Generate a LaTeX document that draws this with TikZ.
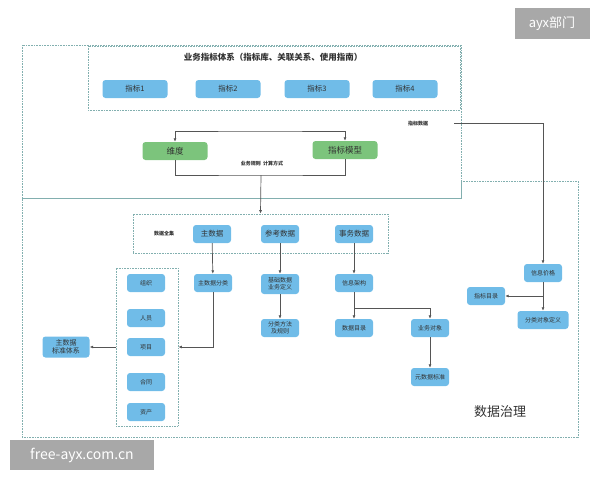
\documentclass[tikz,border=0pt]{standalone}
\usepackage{fontspec}
\setmainfont{Noto Sans CJK SC}
\usepackage{xcolor}
\usetikzlibrary{arrows.meta,positioning}

\definecolor{boxblue}{RGB}{112,188,232}
\definecolor{boxgreen}{RGB}{124,196,124}
\definecolor{dotline}{RGB}{130,175,175}
\definecolor{linegray}{RGB}{85,85,85}
\definecolor{markgray}{RGB}{168,168,168}
\definecolor{textdark}{RGB}{50,50,50}

\begin{document}
\begin{tikzpicture}[
      x=1pt, y=-1pt,
      >={Latex[length=3.5pt,width=3pt]},
      box/.style={fill=boxblue, text=textdark, rounded corners=3pt,
        align=center, minimum width=38pt, minimum height=18pt, inner sep=1pt,
        font=\fontsize{6}{7}\selectfont},
      bigbox/.style={box, minimum width=65pt, font=\fontsize{7.5}{8.5}\selectfont},
      greenbox/.style={bigbox, fill=boxgreen, font=\fontsize{8.5}{9.5}\selectfont},
      frame/.style={draw=dotline, line width=0.8pt, dash pattern=on 0.8pt off 0.8pt},
      flow/.style={->, draw=linegray, line width=0.7pt},
      link/.style={draw=linegray, line width=0.7pt},
      note/.style={font=\fontsize{5}{6}\selectfont\bfseries, text=textdark},
      wmark/.style={fill=markgray, text=white, inner sep=0pt}]
    \useasboundingbox (0,0) rectangle (600,480);

    % dotted frames
    \draw[frame] (22,45) rectangle (461,198);
    \draw[frame] (88,46) rectangle (460,110);
    \draw[frame] (22,198) -- (461,198) -- (461,181) -- (578,181) -- (578,437) -- (22,437) -- cycle;

    % business indicator system
    \node[font=\fontsize{8.5}{9}\selectfont\bfseries, text=textdark] (title) at (273,57) {业务指标体系（指标库、关联关系、使用指南）};
    \node[bigbox] (zb1) at (135,89) {指标1};
    \node[bigbox] (zb2) at (228,89) {指标2};
    \node[bigbox] (zb3) at (317,89) {指标3};
    \node[bigbox] (zb4) at (405,89) {指标4};

    \node[greenbox] (wd) at (175,151) {维度};
    \node[greenbox] (zbmx) at (345,150) {指标模型};
    \coordinate (top) at (260,131);
    \draw[flow, <->] (wd.north) |- (top) -| (zbmx.north);
    \coordinate (gz) at (261,175);
    \draw[link] (wd.south) |- (gz) -| (zbmx.south);
    \node[note] (ywgz) at (262,164) {业务规则\ \ 计算方式};

    \node[note] (zbsj) at (418,124) {指标数据};
    \coordinate (zbsjend) at (454,123);

    % data universe
    \node[frame, minimum width=255pt, minimum height=39pt] (sjqj) at (260.5,233.5) {};
    \node[note] at (164,234) {数据全集};
    \draw[flow] (gz) -- (sjqj.north);
    \node[box, font=\fontsize{7.5}{8.5}\selectfont] (zsj) at (212,234) {主数据};
    \node[box, font=\fontsize{7.5}{8.5}\selectfont] (cksj) at (280,234) {参考数据};
    \node[box, font=\fontsize{7.5}{8.5}\selectfont] (swsj) at (354,234) {事务数据};

    \node[box] (zsjfl) at (213,283) {主数据分类};
    \node[box, minimum height=20pt] (jcsj) at (280,284) {基础数据\\业务定义};
    \node[box] (xxjg) at (354,283) {信息架构};
    \draw[flow] (zsj) -- (zsjfl);
    \draw[flow] (cksj) -- (jcsj);
    \draw[flow] (swsj) -- (xxjg);

    \node[box] (flff) at (280,328) {分类方法\\及规则};
    \draw[flow] (jcsj) -- (flff);

    \node[box] (sjml) at (354,328) {数据目录};
    \node[box] (ywdx) at (430,328) {业务对象};
    \node[box] (ysjbz) at (430,377) {元数据标准};
    \coordinate (br1) at (354,308);
    \draw[flow] (xxjg) -- (sjml);
    \draw[flow] (br1) -| (ywdx.north);
    \draw[flow] (ywdx) -- (ysjbz);

    % master data group
    \node[frame, minimum width=62pt, minimum height=158pt] (zsjgrp) at (147,347) {};
    \node[box] (zz) at (146,283) {组织};
    \node[box] (ry) at (146,318) {人员};
    \node[box] (xm) at (146,347) {项目};
    \node[box] (ht) at (146,382) {合同};
    \node[box] (zc) at (146,412) {资产};
    \node[box, minimum width=47pt, minimum height=21pt, font=\fontsize{7}{8}\selectfont] (zsjbz) at (66,347) {主数据\\标准体系};
    \draw[flow] (zsjfl.south) |- (zsjgrp.east);
    \draw[flow] (zsjgrp.west) -- (zsjbz.east);

    % right column
    \node[box] (xxjgr) at (543,273) {信息价格};
    \node[box] (zbml) at (486,296) {指标目录};
    \node[box, minimum width=51pt] (flzx) at (543,320) {分类对象定义};
    \draw[flow] (zbsjend) -| (xxjgr.north);
    \draw[flow] (xxjgr) -- (flzx);
    \coordinate (br2) at (543,296);
    \draw[flow] (br2) -- (zbml.east);

    \node[font=\fontsize{13}{14}\selectfont, text=textdark] (sjzl) at (500,412) {数据治理};

    % marks
    \node[wmark, minimum width=144pt, minimum height=30pt, font=\fontsize{14}{15}\selectfont] (wm1) at (82,455) {free-ayx.com.cn};
    \node[wmark, minimum width=75pt, minimum height=31pt, font=\fontsize{13}{14}\selectfont] (wm2) at (552,23.5) {ayx部门};
  \end{tikzpicture}
\end{document}
